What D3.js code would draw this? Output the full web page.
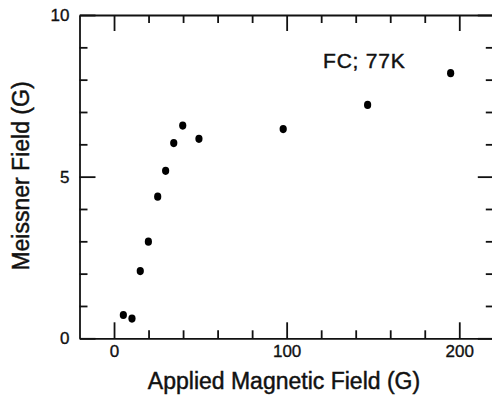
<!DOCTYPE html>
<html>
<head>
<meta charset="utf-8">
<script src="https://cdn.jsdelivr.net/npm/d3@7"></script>
<style>
  html, body { margin: 0; padding: 0; background: #fff; }
  svg { display: block; }
  text { font-family: "Liberation Sans", Arial, Helvetica, sans-serif; fill: #111; stroke: #111; stroke-width: 0.45px; }
  .axis path, .axis line { stroke: #111; stroke-width: 1.8; }
  .axis text { stroke: #111; stroke-width: 0.35px; }
</style>
</head>
<body>
<script>
// Meissner field vs applied magnetic field, field-cooled at 77 K
const appliedField = [5.4, 10.4, 15.2, 19.9, 25.3, 29.9, 34.6, 39.8, 49.2, 98.0, 146.9, 195.0];
const meissnerField = [0.72, 0.61, 2.08, 2.99, 4.38, 5.18, 6.04, 6.58, 6.17, 6.47, 7.22, 8.20];

const xMajorTicks = [0, 100, 200];
const xMinorTicks = [20, 40, 60, 80, 120, 140, 160, 180];
const yMajorTicks = [0, 5, 10];
const yMinorTicks = [1, 2, 3, 4, 6, 7, 8, 9];

const xDomain = [-20, 220];
const yDomain = [0, 10];

const annotation = "FC; 77K";
const xTitle = "Applied Magnetic Field (G)";
const yTitle = "Meissner Field (G)";

const W = 492, H = 396;
const plot = { left: 79.5, right: 493.8, top: 15, bottom: 338.3 };

const svg = d3.select("body").append("svg").attr("width", W).attr("height", H);

const x = d3.scaleLinear().domain(xDomain).range([plot.left, plot.right]);
const y = d3.scaleLinear().domain(yDomain).range([plot.bottom, plot.top]);

const MAJOR = 16, MINOR = 8;

function styleAxis(g) {
  g.attr("class", "axis");
  g.selectAll("text").style("font-size", "17px").attr("fill", "#111");
}

// bottom axis: labelled majors + minor ticks
svg.append("g").attr("transform", `translate(0,${plot.bottom})`)
  .call(d3.axisBottom(x).tickValues(xMajorTicks).tickSizeInner(-MAJOR).tickSizeOuter(0).tickPadding(7).tickFormat(d3.format("d")))
  .call(styleAxis)
  .call(g => g.selectAll(".tick text").attr("y", 7));
svg.append("g").attr("transform", `translate(0,${plot.bottom})`)
  .call(d3.axisBottom(x).tickValues(xMinorTicks).tickSizeInner(-MINOR).tickSizeOuter(0).tickFormat(""))
  .call(styleAxis).call(g => g.select(".domain").remove());

// top axis: ticks only
svg.append("g").attr("transform", `translate(0,${plot.top})`)
  .call(d3.axisTop(x).tickValues(xMajorTicks).tickSizeInner(-MAJOR).tickSizeOuter(0).tickFormat(""))
  .call(styleAxis);
svg.append("g").attr("transform", `translate(0,${plot.top})`)
  .call(d3.axisTop(x).tickValues(xMinorTicks).tickSizeInner(-MINOR).tickSizeOuter(0).tickFormat(""))
  .call(styleAxis).call(g => g.select(".domain").remove());

// left axis: labelled majors + minor ticks
svg.append("g").attr("transform", `translate(${plot.left},0)`)
  .call(d3.axisLeft(y).tickValues(yMajorTicks).tickSizeInner(-MAJOR).tickSizeOuter(0).tickFormat(d3.format("d")))
  .call(styleAxis)
  .call(g => g.selectAll(".tick text").attr("x", -10));
svg.append("g").attr("transform", `translate(${plot.left},0)`)
  .call(d3.axisLeft(y).tickValues(yMinorTicks).tickSizeInner(-MINOR).tickSizeOuter(0).tickFormat(""))
  .call(styleAxis).call(g => g.select(".domain").remove());

// right axis: ticks only
svg.append("g").attr("transform", `translate(${plot.right},0)`)
  .call(d3.axisRight(y).tickValues(yMajorTicks).tickSizeInner(-MAJOR).tickSizeOuter(0).tickFormat(""))
  .call(styleAxis);
svg.append("g").attr("transform", `translate(${plot.right},0)`)
  .call(d3.axisRight(y).tickValues(yMinorTicks).tickSizeInner(-MINOR).tickSizeOuter(0).tickFormat(""))
  .call(styleAxis).call(g => g.select(".domain").remove());

// data points
svg.append("g").selectAll("ellipse")
  .data(appliedField.map((h, i) => ({ h, m: meissnerField[i] })))
  .join("ellipse")
  .attr("cx", d => x(d.h))
  .attr("cy", d => y(d.m))
  .attr("rx", 3.6)
  .attr("ry", 4.1)
  .attr("fill", "#000");

// annotation
svg.append("text")
  .attr("x", 323).attr("y", 68.3)
  .style("font-size", "21px")
  .style("letter-spacing", "0.8px")
  .text(annotation);

// axis titles
svg.append("text")
  .attr("x", 284).attr("y", 389)
  .attr("text-anchor", "middle")
  .style("font-size", "23px")
  .text(xTitle);

svg.append("text")
  .attr("transform", "translate(28.5,176) rotate(-90)")
  .attr("text-anchor", "middle")
  .style("font-size", "23px")
  .text(yTitle);
</script>
</body>
</html>
